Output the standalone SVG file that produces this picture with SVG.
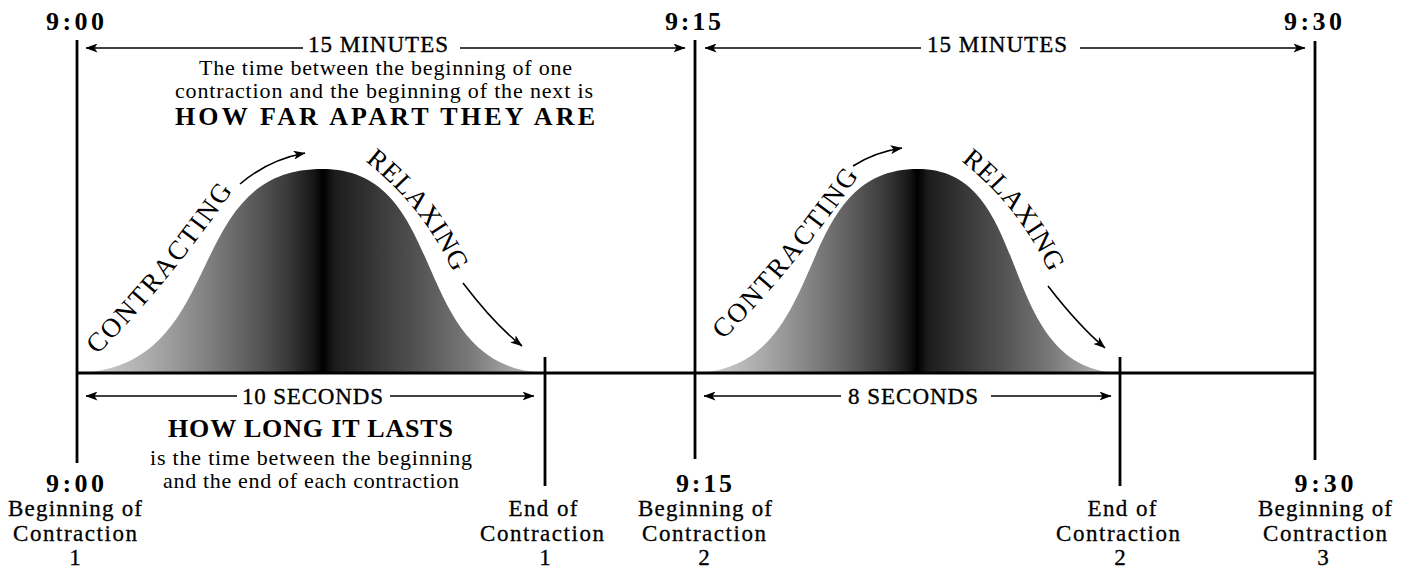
<svg xmlns="http://www.w3.org/2000/svg" width="1411" height="570" viewBox="0 0 1411 570">
<style>
text{font-family:"Liberation Serif","Times New Roman",serif;fill:#000}
.time{font-size:26px;font-weight:bold;text-anchor:middle}
.dim{font-size:23px;text-anchor:middle;stroke:#000;stroke-width:0.35}
.body{font-size:22px;text-anchor:middle}
.head{font-size:26px;font-weight:bold;text-anchor:middle}
.lbl{font-size:23px;text-anchor:middle;stroke:#000;stroke-width:0.3}
.cv{font-size:27px}
.axis{stroke:#000;stroke-width:2.8;fill:none}
.arr{stroke:#000;stroke-width:1.6;fill:none;marker-end:url(#ah)}
.bell{fill:url(#bellG)}
</style>
<defs>
<marker id="ah" markerUnits="userSpaceOnUse" viewBox="0 0 12 9" markerWidth="12" markerHeight="9" refX="11.5" refY="4.5" orient="auto"><path d="M0,0 L12,4.5 L0,9 L3,4.5 Z" fill="#000"/></marker>
<linearGradient id="bellG" x1="0" y1="0" x2="1" y2="0">
<stop offset="0" stop-color="#d6d6d6"/>
<stop offset="0.15" stop-color="#ababab"/>
<stop offset="0.26" stop-color="#868686"/>
<stop offset="0.37" stop-color="#5c5c5c"/>
<stop offset="0.45" stop-color="#393939"/>
<stop offset="0.505" stop-color="#161616"/>
<stop offset="0.525" stop-color="#000"/>
<stop offset="0.55" stop-color="#1c1c1c"/>
<stop offset="0.65" stop-color="#3b3b3b"/>
<stop offset="0.74" stop-color="#565656"/>
<stop offset="0.85" stop-color="#7c7c7c"/>
<stop offset="0.95" stop-color="#acacac"/>
<stop offset="1" stop-color="#d2d2d2"/>
</linearGradient>
<path id="tpC1" d="M97,355 Q166,287 236,186"/>
<path id="tpR1" d="M365,161 Q423,206 455,276"/>
<path id="tpC2" d="M723,340 Q792,272 862,171"/>
<path id="tpR2" d="M961,161 Q1019,206 1051,276"/>
</defs>

<g id="bell1">
<path class="bell" d="M80,373 C230,365 180,169 322,169 C452,169 406,365 543,373 Z"/>
<text class="cv" letter-spacing="2"><textPath href="#tpC1">CONTRACTING</textPath></text>
<text class="cv" letter-spacing="0.8"><textPath href="#tpR1">RELAXING</textPath></text>
</g>
<g id="bell2">
<path class="bell" d="M697,373 C834,365 788,169 918,169 C1035,169 994,365 1117,373 Z"/>
<text class="cv" letter-spacing="2"><textPath href="#tpC2">CONTRACTING</textPath></text>
<text class="cv" letter-spacing="0.8"><textPath href="#tpR2">RELAXING</textPath></text>
</g>

<g id="timeline">
<path class="axis" d="M77,373 H1315"/>
<path class="axis" d="M77,40 V463"/>
<path class="axis" d="M695,40 V459"/>
<path class="axis" d="M1315,41 V460"/>
<path class="axis" d="M545,357 V486"/>
<path class="axis" d="M1120,357 V486"/>
</g>

<g id="connectors">
<path class="arr" d="M303,48 H86"/>
<path class="arr" d="M460,48 H685"/>
<path class="arr" d="M921,48 H705"/>
<path class="arr" d="M1080,48 H1305"/>
<path class="arr" d="M237,396 H86"/>
<path class="arr" d="M390,396 H534"/>
<path class="arr" d="M841,396 H704"/>
<path class="arr" d="M991,396 H1111"/>
<path class="arr" d="M240,184 Q268,160 305,153"/>
<path class="arr" d="M463,283 Q495,325 522,346"/>
<path class="arr" d="M853,166 Q875,152 902,148"/>
<path class="arr" d="M1048,286 Q1078,325 1105,348"/>
</g>

<g id="top-labels">
<text class="time" x="75" y="30" textLength="58">9:00</text>
<text class="time" x="693" y="30" textLength="56">9:15</text>
<text class="time" x="1313" y="30" textLength="58">9:30</text>
<text class="dim" x="378" y="52" textLength="140">15 MINUTES</text>
<text class="dim" x="997" y="52" textLength="140">15 MINUTES</text>
</g>

<g id="interval-text">
<text class="body" x="385.5" y="75" textLength="373">The time between the beginning of one</text>
<text class="body" x="384" y="98" textLength="418">contraction and the beginning of the next is</text>
<text class="head" x="385" y="125" textLength="420">HOW FAR APART THEY ARE</text>
</g>

<g id="duration-text">
<text class="dim" x="312.5" y="404" textLength="141">10 SECONDS</text>
<text class="dim" x="913" y="404" textLength="130">8 SECONDS</text>
<text class="head" x="310.5" y="437" textLength="285">HOW LONG IT LASTS</text>
<text class="body" x="311" y="465" textLength="322">is the time between the beginning</text>
<text class="body" x="311" y="488" textLength="296">and the end of each contraction</text>
</g>

<g id="label-begin1">
<text class="time" x="75" y="492" textLength="58">9:00</text>
<text class="lbl" x="75" y="516" textLength="134">Beginning of</text>
<text class="lbl" x="75" y="541" textLength="124">Contraction</text>
<text class="lbl" x="75" y="565">1</text>
</g>
<g id="label-end1">
<text class="lbl" x="543" y="516" textLength="69">End of</text>
<text class="lbl" x="542" y="541" textLength="124">Contraction</text>
<text class="lbl" x="545" y="565">1</text>
</g>
<g id="label-begin2">
<text class="time" x="704" y="492" textLength="56">9:15</text>
<text class="lbl" x="705" y="516" textLength="134">Beginning of</text>
<text class="lbl" x="704" y="541" textLength="124">Contraction</text>
<text class="lbl" x="704" y="565">2</text>
</g>
<g id="label-end2">
<text class="lbl" x="1122" y="516" textLength="69">End of</text>
<text class="lbl" x="1118" y="541" textLength="124">Contraction</text>
<text class="lbl" x="1120" y="565">2</text>
</g>
<g id="label-begin3">
<text class="time" x="1324" y="492" textLength="59">9:30</text>
<text class="lbl" x="1325" y="516" textLength="134">Beginning of</text>
<text class="lbl" x="1325" y="541" textLength="124">Contraction</text>
<text class="lbl" x="1323" y="565">3</text>
</g>
</svg>
